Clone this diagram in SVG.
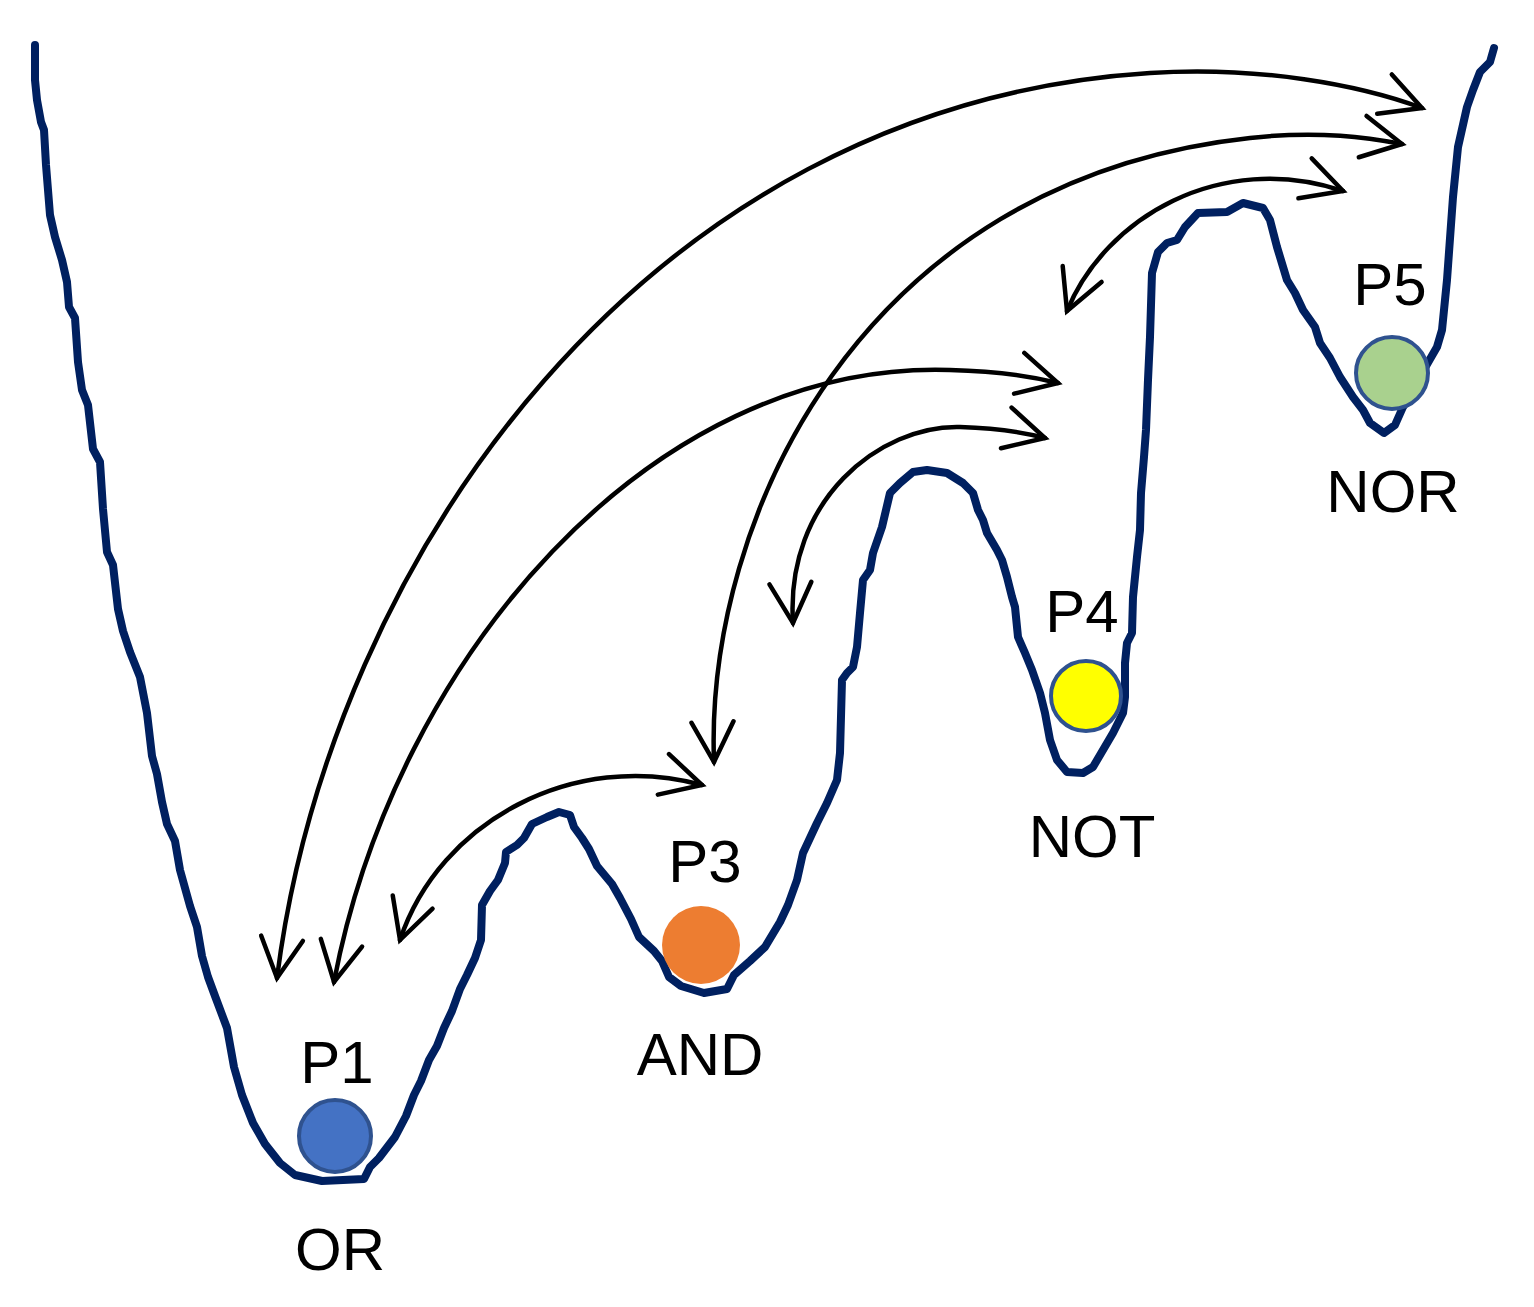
<svg xmlns="http://www.w3.org/2000/svg" width="1534" height="1307" viewBox="0 0 1534 1307">
<style>
.land{fill:none;stroke:#002060;stroke-width:8;stroke-linejoin:round;stroke-linecap:round}
.arc{fill:none;stroke:#000;stroke-width:4.5;stroke-linecap:round}
.lbl{font-family:"Liberation Sans",Arial,sans-serif;font-size:60px;fill:#000;text-anchor:middle}
.ball{stroke:#2F528F;stroke-width:4}
</style>
<defs>
<marker id="ah" markerUnits="userSpaceOnUse" orient="auto-start-reverse" refX="0" refY="0" markerWidth="60" markerHeight="60" overflow="visible">
<path d="M-40,-21 L0,0 L-40,21" fill="none" stroke="#000" stroke-width="4.5" stroke-linecap="round" stroke-linejoin="miter"/>
</marker>
</defs>
<rect width="1534" height="1307" fill="#fff"/>
<g id="landscape">
<polyline class="land" points="35,45 35,80 37,100 41,122 44,130 46,165 50,215 55,237 62,260 67,282 69,307 75,318 78,362 82,390 88,405 93,449 100,462 103,509 107,552 113,565 118,609 123,631 130,652 140,677 147,713 152,756 157,774 162,802 167,824 175,841 180,870 190,906 197,927 202,956 208,977 215,996 227,1028 234,1067 242,1095 253,1123 265,1144 280,1163 295,1175 322,1181 364,1179 370,1167 379,1158 395,1137 406,1116 414,1095 421,1081 429,1060 437,1046 444,1028 452,1011 460,989 467,975 475,958 481,940 482,905 490,891 498,880 505,863 506,852 517,845 524,838 532,824 547,817 559,812 570,815 574,827 582,838 589,849 597,866 612,884 620,898 631,919 639,937 654,951 662,961 669,977 681,986 704,993 727,989 734,975 750,961 765,947 780,922 788,905 797,880 803,853 817,823 827,803 837,780 840,753 842,680 847,673 853,667 857,647 860,613 863,580 870,570 873,553 882,527 890,493 900,483 913,472 927,470 947,473 963,483 973,493 978,510 983,520 987,533 997,550 1002,560 1007,577 1012,597 1015,607 1018,637 1025,653 1032,670 1040,693 1045,713 1050,740 1057,760 1067,772 1083,773 1093,767 1103,750 1113,733 1123,713 1125,697 1125,663 1127,643 1132,633 1133,597 1137,557 1140,530 1141,493 1144,457 1146,430 1148,380 1150,337 1152,273 1158,252 1167,243 1177,240 1185,227 1198,213 1227,212 1243,203 1263,208 1270,220 1277,247 1287,280 1295,293 1303,310 1315,327 1320,343 1330,358 1340,377 1353,397 1363,410 1370,423 1384,433 1395,425 1403,407 1422,373 1437,347 1442,330 1447,280 1453,197 1458,147 1467,107 1473,90 1480,72 1490,62 1494,48"/>
</g>
<g id="connectors">
<path id="c-p1-p5" class="arc" d="M277,978 C330,560 645,105 1150,73 C1260,66 1360,85 1422,108" marker-start="url(#ah)" marker-end="url(#ah)"/>
<path id="c-p1-p4" class="arc" d="M334,982 C395,660 650,360 950,370 C995,371 1030,376 1058,383" marker-start="url(#ah)" marker-end="url(#ah)"/>
<path id="c-p1-p3" class="arc" d="M400,940 C440,820 575,750 702,785" marker-start="url(#ah)" marker-end="url(#ah)"/>
<path id="c-p3-p5" class="arc" d="M714,762 C705,520 860,180 1250,138 C1320,130 1370,138 1402,144" marker-start="url(#ah)" marker-end="url(#ah)"/>
<path id="c-p3-p4" class="arc" d="M793,623 C785,500 880,425 960,427 C995,428 1022,432 1045,438" marker-start="url(#ah)" marker-end="url(#ah)"/>
<path id="c-p4-p5" class="arc" d="M1067,311 C1105,218 1220,150 1343,191" marker-start="url(#ah)" marker-end="url(#ah)"/>
</g>
<g id="P1">
<circle class="ball" cx="335" cy="1136" r="36" fill="#4472C4"/>
<text class="lbl" x="337" y="1083">P1</text>
<text class="lbl" x="340" y="1270">OR</text>
</g>
<g id="P3">
<circle cx="701" cy="945" r="39" fill="#ED7D31"/>
<text class="lbl" x="705" y="882">P3</text>
<text class="lbl" x="700" y="1075">AND</text>
</g>
<g id="P4">
<circle class="ball" cx="1086" cy="696" r="35" fill="#FFFF00"/>
<text class="lbl" x="1082" y="632">P4</text>
<text class="lbl" x="1092" y="857">NOT</text>
</g>
<g id="P5">
<circle class="ball" cx="1392" cy="373" r="36" fill="#A9D18E"/>
<text class="lbl" x="1390" y="305">P5</text>
<text class="lbl" x="1393" y="512">NOR</text>
</g>
</svg>
